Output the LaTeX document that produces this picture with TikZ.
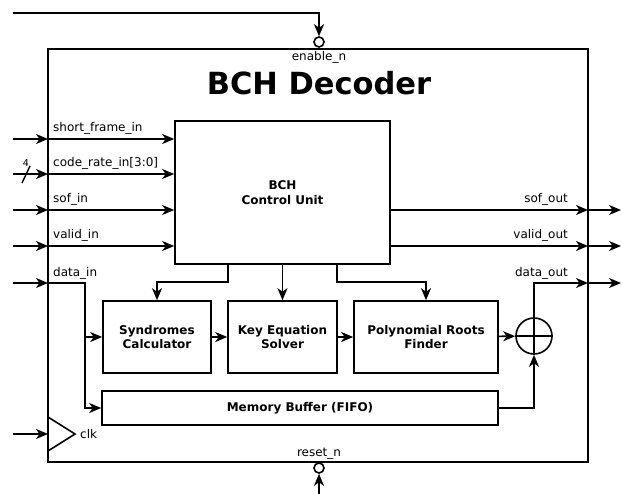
\documentclass[tikz,border=0pt]{standalone}
\usepackage{fontspec}
\setmainfont{DejaVu Sans}
\usepackage{tikz}
\usetikzlibrary{arrows.meta,calc,positioning}

\tikzset{
    blk/.style={draw, line width=1.6pt, align=center, inner sep=0pt, font=\fontsize{12}{14.5}\selectfont\bfseries},
    sig/.style={line width=1.6pt, -{Stealth[length=12pt,width=10pt,inset=3.5pt]}},
    wire/.style={line width=1.6pt},
    lbl/.style={inner sep=0pt, font=\fontsize{12}{14}\selectfont},
    bubble/.style={circle, draw, line width=1.6pt, fill=white, minimum size=10pt, inner sep=0pt}
}

\begin{document}
\begin{tikzpicture}[x=1pt, y=-1pt]
\useasboundingbox (0,0) rectangle (623,494);

% decoder frame
\node[draw, line width=1.9pt, anchor=north west, minimum width=540pt, minimum height=413pt, inner sep=0pt, outer sep=0pt] (dec) at (48,49) {};
\node[font=\fontsize{30.5}{34}\selectfont\bfseries, anchor=base] (title) at (319,95) {BCH Decoder};

% blocks
\node[blk, minimum width=215pt, minimum height=143pt] (cu) at (282.5,192.5) {BCH\\Control Unit};
\node[blk, minimum width=108pt, minimum height=72pt] (syn) at (157,337) {Syndromes\\Calculator};
\node[blk, minimum width=109pt, minimum height=72pt] (kes) at (282.5,337) {Key Equation\\Solver};
\node[blk, minimum width=144pt, minimum height=72pt] (prf) at (426,337) {Polynomial Roots\\Finder};
\node[blk, minimum width=396pt, minimum height=34pt] (mem) at (300,408) {Memory Buffer (FIFO)};
\node[circle, draw, line width=1.6pt, minimum size=36pt, inner sep=0pt] (xor) at (534,336) {};
\draw[wire] (xor.north) -- (xor.south);
\draw[wire] (xor.west) -- (xor.east);

% enable / reset
\node[bubble] (enb) at (319,42) {};
\node[lbl, anchor=base] (lenb) at (319,61) {enable\_n};
\coordinate (en0) at (13,13);
\draw[sig] (en0) -| (enb.north);
\node[bubble] (rst) at (319,468) {};
\node[lbl, anchor=base] (lrst) at (319,456) {reset\_n};
\coordinate (rst0) at (319,494);
\draw[sig] (rst0) -- (rst.south);

% inputs
\coordinate (sfi) at (13,139);
\coordinate (cri) at (13,174);
\coordinate (sofi) at (13,210);
\coordinate (vli) at (13,246);
\coordinate (din) at (13,283);
\draw[sig] (sfi) -- (sfi -| dec.west);
\draw[sig] (sfi -| dec.west) -- (sfi -| cu.west);
\draw[sig] (cri) -- (cri -| dec.west);
\draw[sig] (cri -| dec.west) -- (cri -| cu.west);
\draw[sig] (sofi) -- (sofi -| dec.west);
\draw[sig] (sofi -| dec.west) -- (sofi -| cu.west);
\draw[sig] (vli) -- (vli -| dec.west);
\draw[sig] (vli -| dec.west) -- (vli -| cu.west);
\draw[sig] (din) -- (din -| dec.west);
\node[lbl, anchor=base west] (lsfi) at (53,132) {short\_frame\_in};
\node[lbl, anchor=base west] (lcri) at (53,167) {code\_rate\_in[3:0]};
\node[lbl, anchor=base west] (lsofi) at (53,203) {sof\_in};
\node[lbl, anchor=base west] (lvli) at (53,239) {valid\_in};
\node[lbl, anchor=base west] (ldin) at (53,276) {data\_in};
% bus width mark
\draw[line width=1.4pt] (22,183) -- (30,166);
\node[inner sep=0pt, font=\fontsize{9.5}{10}\selectfont, anchor=base] (bw) at (26,167) {4};

% data path
\coordinate (dsplit) at (85,283);
\draw[sig] (din -| dec.west) -- (dsplit) |- (syn.west);
\draw[sig] (dsplit) |- (mem.west);
\coordinate (cl) at (228,282);
\coordinate (cr) at (337,282);
\draw[sig] (cl |- cu.south) -- (cl) -| (syn.north);
\draw[sig] (cu.south) -- (kes.north);
\draw[sig] (cr |- cu.south) -- (cr) -| (prf.north);
\draw[sig] (syn) -- (kes);
\draw[sig] (kes) -- (prf);
\draw[sig] (prf) -- (xor);
\draw[sig] (mem.east) -| (xor.south);

% outputs
\coordinate (sofo) at (621,210);
\coordinate (vlo) at (621,246);
\coordinate (dout) at (621,283);
\draw[sig] (sofo -| cu.east) -- (sofo -| dec.east);
\draw[sig] (sofo -| dec.east) -- (sofo);
\draw[sig] (vlo -| cu.east) -- (vlo -| dec.east);
\draw[sig] (vlo -| dec.east) -- (vlo);
\draw[sig] (xor.north) |- (dout -| dec.east);
\draw[sig] (dout -| dec.east) -- (dout);
\node[lbl, anchor=base east] (lsofo) at (568,203) {sof\_out};
\node[lbl, anchor=base east] (lvlo) at (568,239) {valid\_out};
\node[lbl, anchor=base east] (ldout) at (568,276) {data\_out};

% clock
\coordinate (ck) at (48,434);
\coordinate (ck0) at (13,434);
\draw[sig] (ck0) -- (ck);
\draw[wire] ($(ck)+(0,-17)$) -- ($(ck)+(27,0)$) -- ($(ck)+(0,17)$);
\node[lbl, anchor=west] (lck) at (80,434) {clk};
\end{tikzpicture}
\end{document}
